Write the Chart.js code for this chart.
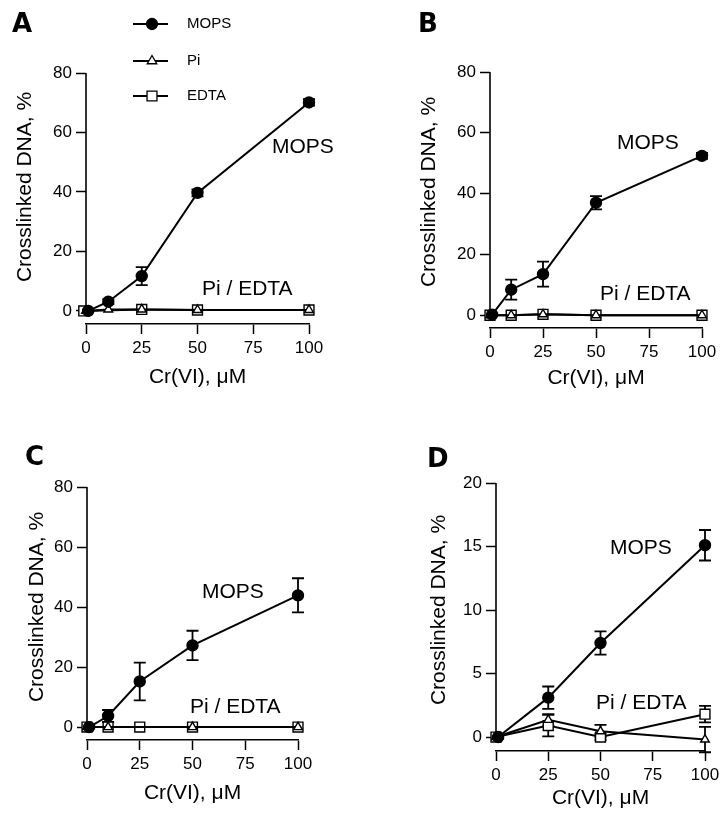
<!DOCTYPE html>
<html>
<head>
<meta charset="utf-8">
<script src="https://cdn.jsdelivr.net/npm/chart.js@4.4.1/dist/chart.umd.min.js"></script>
<style>
  body { margin: 0; background: #fff; }
  #wrap { position: relative; width: 728px; height: 821px; }
  canvas { position: absolute; }
</style>
</head>
<body>
<div id="wrap">
  <canvas id="pA" width="364" height="400" style="left:0;top:0"></canvas>
  <canvas id="pB" width="364" height="400" style="left:364px;top:0"></canvas>
  <canvas id="pC" width="364" height="421" style="left:0;top:400px"></canvas>
  <canvas id="pD" width="364" height="421" style="left:364px;top:400px"></canvas>
</div>
<script>
// tick labels
const xTicks = [0, 25, 50, 75, 100];
const yTicks80 = [0, 20, 40, 60, 80];
const yTicks20 = [0, 5, 10, 15, 20];

// Panel A  (Cr(VI) µM -> crosslinked DNA %)
const mopsA_x = [1, 10, 25, 50, 100];
const mopsA   = [0, 3.1, 11.7, 39.7, 70.1];
const mopsA_e = [0, 0.8, 3.0, 1.2, 1.1];
const piA_x   = [0, 10, 25, 50, 100];
const piA     = [0, 0.5, 0.5, 0.3, 0.3];
const edtaA_x = [-1, 25, 50, 100];
const edtaA   = [0, 0.5, 0.3, 0.3];

// Panel B
const mopsB_x = [1, 10, 25, 50, 100];
const mopsB   = [0.2, 8.4, 13.5, 37.0, 52.4];
const mopsB_e = [0.4, 3.3, 4.1, 2.2, 1.0];
const piB_x   = [0, 10, 25, 50, 100];
const piB     = [0, 0, 0.3, 0, 0];
const edtaB_x = [0, 10, 25, 50, 100];
const edtaB   = [0, 0, 0.3, 0, 0];

// Panel C
const mopsC_x = [1, 10, 25, 50, 100];
const mopsC   = [0, 3.7, 15.2, 27.2, 43.9];
const mopsC_e = [0.4, 2.0, 6.3, 4.9, 5.7];
const piC_x   = [0, 10, 50, 100];
const piC     = [0, 0, 0, 0];
const edtaC_x = [0, 10, 25, 50, 100];
const edtaC   = [0, 0, 0, 0, 0];

// Panel D
const mopsD_x = [1, 25, 50, 100];
const mopsD   = [0, 3.1, 7.4, 15.1];
const mopsD_e = [0.15, 0.88, 0.92, 1.2];
const piD_x   = [0, 25, 50, 100];
const piD     = [0, 1.35, 0.45, -0.2];
const piD_e   = [0, 0.45, 0.5, 1.0];
const edtaD_x = [0, 25, 50, 100];
const edtaD   = [0, 0.9, 0, 1.8];
const edtaD_e = [0, 0.85, 0.25, 0.65];

const FONT = "'Liberation Sans', Arial, sans-serif";

function pts(xs, ys, es) {
  return xs.map((x, i) => ({ x, y: ys[i], e: es ? es[i] : 0 }));
}

const mopsStyle = { label: 'MOPS', pointStyle: 'circle', pointRadius: 5.5, pointBackgroundColor: '#000' };
const piStyle   = { label: 'Pi',   pointStyle: 'triangle', pointRadius: 5, pointBackgroundColor: '#fff' };
const edtaStyle = { label: 'EDTA', pointStyle: 'rect', pointRadius: 7, pointBackgroundColor: '#fff' };

function ds(style, data) {
  return {
    ...style,
    data,
    borderColor: '#000',
    borderWidth: 2,
    pointBorderColor: '#000',
    pointBorderWidth: 1.4,
    tension: 0,
    clip: false
  };
}

/* ── error bars ── */
const errorBars = {
  id: 'errorBars',
  beforeDatasetsDraw(chart) {
    const { ctx, scales: { x, y } } = chart;
    ctx.save();
    ctx.strokeStyle = '#000';
    ctx.lineWidth = 1.8;
    chart.data.datasets.forEach(d => {
      d.data.forEach(p => {
        if (!p.e) return;
        const px = x.getPixelForValue(p.x);
        const y1 = y.getPixelForValue(p.y + p.e);
        const y2 = y.getPixelForValue(p.y - p.e);
        ctx.beginPath();
        ctx.moveTo(px, y1); ctx.lineTo(px, y2);
        ctx.moveTo(px - 6, y1); ctx.lineTo(px + 6, y1);
        ctx.moveTo(px - 6, y2); ctx.lineTo(px + 6, y2);
        ctx.stroke();
      });
    });
    ctx.restore();
  }
};

/* ── y axis line (ends at 0, x axis sits below) ── */
const yAxisLine = {
  id: 'yAxisLine',
  beforeDatasetsDraw(chart) {
    const { ctx, scales: { y }, chartArea } = chart;
    ctx.save();
    ctx.strokeStyle = '#000';
    ctx.lineWidth = 1.6;
    ctx.beginPath();
    ctx.moveTo(chartArea.left, y.getPixelForValue(y.max));
    ctx.lineTo(chartArea.left, y.getPixelForValue(0) + 1);
    ctx.stroke();
    ctx.restore();
  }
};

function makePanel(p) {
  const W = p.W, H = p.H;
  const textPlugin = {
    id: 'panelText',
    afterDraw(chart) {
      const ctx = chart.ctx;
      ctx.save();
      ctx.fillStyle = '#000';
      ctx.textBaseline = 'middle';
      ctx.textAlign = 'left';
      ctx.font = "bold 26px 'DejaVu Sans', sans-serif";
      ctx.fillText(p.letter, p.letterPos[0], p.letterPos[1]);
      ctx.font = '21px ' + FONT;
      ctx.fillText('MOPS', p.mopsPos[0], p.mopsPos[1]);
      ctx.fillText('Pi / EDTA', p.piPos[0], p.piPos[1]);
      // y title
      ctx.save();
      ctx.translate(p.yTitlePos[0], p.yTitlePos[1]);
      ctx.rotate(-Math.PI / 2);
      ctx.textAlign = 'center';
      ctx.fillText('Crosslinked DNA, %', 0, 0);
      ctx.restore();
      // legend (panel A only)
      if (p.legend) {
        const rows = [24, 61, 96];
        chart.data.datasets.forEach((d, i) => {
          const ry = rows[i];
          ctx.strokeStyle = '#000';
          ctx.lineWidth = 1.8;
          ctx.beginPath();
          ctx.moveTo(133, ry); ctx.lineTo(168, ry);
          ctx.stroke();
          ctx.fillStyle = d.pointBackgroundColor;
          ctx.lineWidth = 1.3;
          Chart.helpers.drawPoint(ctx, { pointStyle: d.pointStyle, radius: i === 1 ? 5.5 : d.pointRadius, borderWidth: 1.3, rotation: 0 }, 152, ry);
          ctx.fillStyle = '#000';
          ctx.font = '15px ' + FONT;
          ctx.textAlign = 'left';
          ctx.fillText(d.label, 187, ry);
        });
      }
      ctx.restore();
    }
  };

  new Chart(document.getElementById(p.id), {
    type: 'line',
    data: { datasets: p.datasets },
    options: {
      responsive: false,
      animation: false,
      layout: { padding: { left: 0, top: p.top, right: W - p.right, bottom: 0 } },
      plugins: { legend: { display: false }, tooltip: { enabled: false } },
      scales: {
        x: {
          type: 'linear',
          min: 0, max: 100,
          afterBuildTicks: s => { s.ticks = xTicks.map(v => ({ value: v })); },
          afterFit: s => { s.height = H - p.bottom; },
          border: { display: true, color: '#000', width: 1.6 },
          grid: { drawOnChartArea: false, drawTicks: true, tickLength: 10, tickColor: '#000', tickWidth: 1.5 },
          ticks: { color: '#000', padding: 4, maxRotation: 0, font: { family: FONT, size: 17 } },
          title: { display: true, text: 'Cr(VI), μM', color: '#000', padding: { top: 0, bottom: p.xTitlePad }, font: { family: FONT, size: 21 } }
        },
        y: {
          type: 'linear',
          min: p.yMin, max: p.yMax,
          afterBuildTicks: s => { s.ticks = p.yTicks.map(v => ({ value: v })); },
          afterFit: s => { s.width = p.left; },
          border: { display: false },
          grid: { drawOnChartArea: false, drawTicks: true, tickLength: 10, tickColor: '#000', tickWidth: 1.5 },
          ticks: { color: '#000', padding: 4, font: { family: FONT, size: 17 } }
        }
      }
    },
    plugins: [yAxisLine, errorBars, textPlugin]
  });
}

makePanel({
  id: 'pA', W: 364, H: 400, left: 86, right: 309, top: 73, bottom: 324,
  yMin: -4.4, yMax: 80, yTicks: yTicks80, xTitlePad: 10,
  letter: 'A', letterPos: [12, 25], yTitlePos: [25, 187], mopsPos: [272, 147], piPos: [202, 289],
  legend: true,
  datasets: [ds(mopsStyle, pts(mopsA_x, mopsA, mopsA_e)), ds(piStyle, pts(piA_x, piA)), ds(edtaStyle, pts(edtaA_x, edtaA))]
});

makePanel({
  id: 'pB', W: 364, H: 400, left: 126, right: 338, top: 72, bottom: 328,
  yMin: -4.2, yMax: 80, yTicks: yTicks80, xTitlePad: 9,
  letter: 'B', letterPos: [54, 25], yTitlePos: [65, 192], mopsPos: [253, 143], piPos: [236, 294],
  datasets: [ds(mopsStyle, pts(mopsB_x, mopsB, mopsB_e)), ds(piStyle, pts(piB_x, piB)), ds(edtaStyle, pts(edtaB_x, edtaB))]
});

makePanel({
  id: 'pC', W: 364, H: 421, left: 87, right: 298, top: 87, bottom: 340,
  yMin: -4.3, yMax: 80, yTicks: yTicks80, xTitlePad: 15,
  letter: 'C', letterPos: [25, 58], yTitlePos: [37, 207], mopsPos: [202, 192], piPos: [190, 307],
  datasets: [ds(mopsStyle, pts(mopsC_x, mopsC, mopsC_e)), ds(piStyle, pts(piC_x, piC)), ds(edtaStyle, pts(edtaC_x, edtaC))]
});

makePanel({
  id: 'pD', W: 364, H: 421, left: 132, right: 341, top: 83, bottom: 351,
  yMin: -1.1, yMax: 20, yTicks: yTicks20, xTitlePad: 10,
  letter: 'D', letterPos: [63, 60], yTitlePos: [75, 210], mopsPos: [246, 148], piPos: [232, 303],
  datasets: [ds(mopsStyle, pts(mopsD_x, mopsD, mopsD_e)), ds(piStyle, pts(piD_x, piD, piD_e)), ds(edtaStyle, pts(edtaD_x, edtaD, edtaD_e))]
});
</script>
</body>
</html>
